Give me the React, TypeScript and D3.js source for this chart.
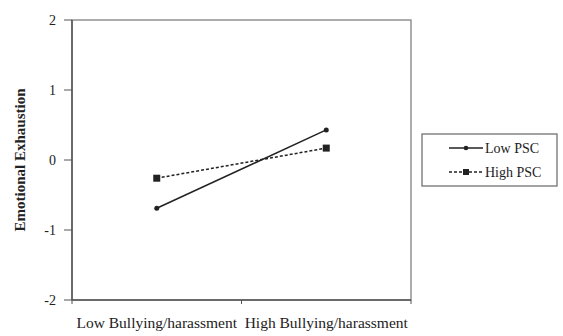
import React from "react";
import * as d3 from "d3";

const categories = ["Low Bullying/harassment", "High Bullying/harassment"];
const lowPSC = [-0.69, 0.43];
const highPSC = [-0.26, 0.17];
const yTicks = [-2, -1, 0, 1, 2];
const seriesNames = ["Low PSC", "High PSC"];

const W = 563;
const H = 336;
const m = { left: 72, right: 152, top: 20, bottom: 36 };

export default function App() {
  const x = d3
    .scaleBand<string>()
    .domain(categories)
    .range([m.left, W - m.right]);
  const y = d3
    .scaleLinear()
    .domain([-2, 2])
    .range([H - m.bottom, m.top]);

  const cx = (c: string) => (x(c) as number) + x.bandwidth() / 2;
  const line = d3
    .line<number>()
    .x((_, i) => cx(categories[i]))
    .y((d) => y(d));

  const font = "'Liberation Serif', 'Times New Roman', serif";
  const ink = "#222";

  return (
    <svg
      width={W}
      height={H}
      style={{ position: "absolute", left: 0, top: 0, background: "#fff" }}
      fontFamily={font}
    >
      {/* plot frame */}
      <rect
        x={m.left}
        y={m.top}
        width={W - m.right - m.left}
        height={H - m.bottom - m.top}
        fill="none"
        stroke="#777"
        strokeWidth={1.2}
      />
      <line x1={m.left} x2={m.left} y1={m.top} y2={H - m.bottom} stroke="#555" strokeWidth={1.5} />
      <line x1={m.left} x2={W - m.right} y1={H - m.bottom} y2={H - m.bottom} stroke="#555" strokeWidth={1.5} />

      {/* y ticks */}
      {yTicks.map((t) => (
        <g key={t}>
          <line x1={m.left - 8} x2={m.left} y1={y(t)} y2={y(t)} stroke="#555" />
          <text x={56} y={y(t) + 5} textAnchor="end" fontSize={14} fill={ink}>
            {t}
          </text>
        </g>
      ))}

      {/* x ticks: boundaries */}
      {[m.left, (x(categories[1]) as number), W - m.right].map((v, i) => (
        <line key={i} x1={v} x2={v} y1={H - m.bottom} y2={H - m.bottom + 4} stroke="#555" />
      ))}
      {categories.map((c) => (
        <text key={c} x={cx(c)} y={328} textAnchor="middle" fontSize={15.5} fill={ink}>
          {c}
        </text>
      ))}

      {/* y label */}
      <text
        transform={`translate(25,${(m.top + H - m.bottom) / 2}) rotate(-90)`}
        textAnchor="middle"
        fontSize={15}
        fontWeight="bold"
        fill={ink}
      >
        Emotional Exhaustion
      </text>

      {/* series */}
      <path d={line(lowPSC) || ""} fill="none" stroke={ink} strokeWidth={1.5} />
      {lowPSC.map((v, i) => (
        <circle key={i} cx={cx(categories[i])} cy={y(v)} r={2.5} fill={ink} />
      ))}
      <path d={line(highPSC) || ""} fill="none" stroke={ink} strokeWidth={1.5} strokeDasharray="3,2" />
      {highPSC.map((v, i) => (
        <rect key={i} x={cx(categories[i]) - 3.5} y={y(v) - 3.5} width={7} height={7} fill={ink} />
      ))}

      {/* legend */}
      <rect x={422} y={134} width={135} height={52} fill="#fff" stroke="#666" strokeWidth={1.2} />
      {seriesNames.map((s, i) => {
        const ly = 148 + i * 24;
        return (
          <g key={s}>
            <line
              x1={449}
              x2={483}
              y1={ly}
              y2={ly}
              stroke={ink}
              strokeWidth={1.3}
              strokeDasharray={i === 1 ? "3,2" : undefined}
            />
            {i === 0 ? (
              <circle cx={466} cy={ly} r={2.3} fill={ink} />
            ) : (
              <rect x={463} y={ly - 3} width={6} height={6} fill={ink} />
            )}
            <text x={485} y={ly + 5} fontSize={14} fill={ink}>
              {s}
            </text>
          </g>
        );
      })}
    </svg>
  );
}
